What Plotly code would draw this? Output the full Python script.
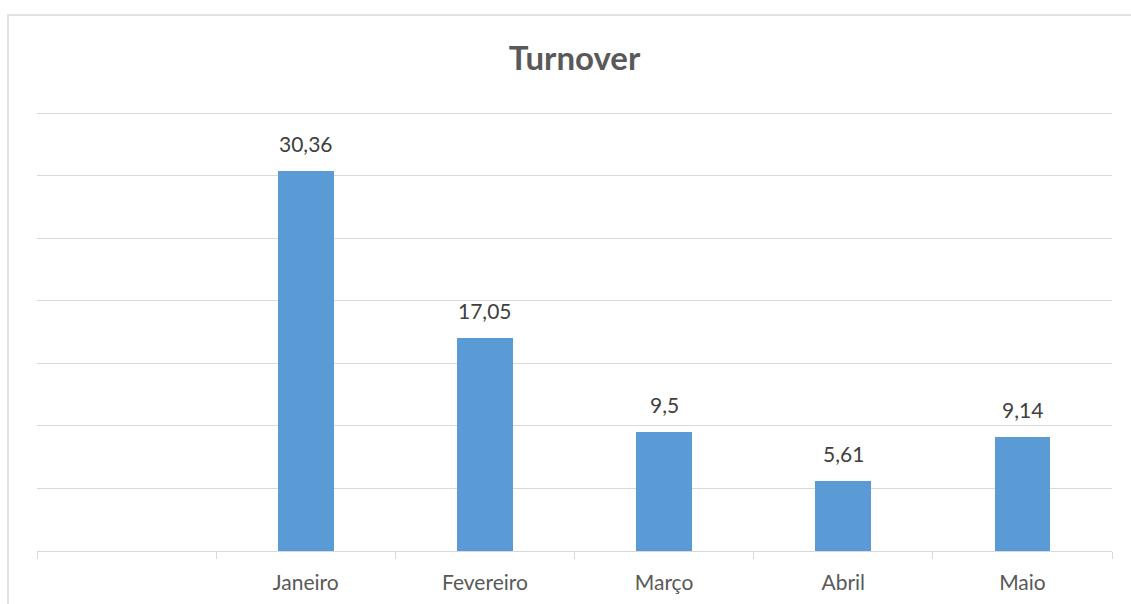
import plotly.graph_objects as go

categories = ["", "Janeiro", "Fevereiro", "Março", "Abril", "Maio"]
values = [None, 30.36, 17.05, 9.5, 5.61, 9.14]
value_labels = ["", "30,36", "17,05", "9,5", "5,61", "9,14"]
title_text = "Turnover"

W, H = 1131, 604
L, R, T, B = 37, 19, 107, 53
plot_w = W - L - R
plot_h = H - T - B
YMAX = 35.5

xs = list(range(len(categories)))

fig = go.Figure()
fig.add_trace(go.Bar(
    x=xs, y=values, width=0.31,
    marker=dict(color="#5B9BD5", line=dict(width=0)),
    hoverinfo="skip",
))

annotations = []
for x, v, t in zip(xs, values, value_labels):
    if v is None:
        continue
    annotations.append(dict(
        x=x, y=v, xref="x", yref="y", text=t, showarrow=False,
        yanchor="bottom", yshift=13,
        font=dict(family="Lato", size=21, color="#404040"),
    ))

fig.update_layout(
    width=W, height=H,
    margin=dict(l=L, r=R, t=T, b=B, autoexpand=False),
    paper_bgcolor="white", plot_bgcolor="white",
    showlegend=False,
    bargap=0,
    title=dict(
        text="<b>" + title_text + "</b>",
        x=(L + plot_w / 2) / W, xanchor="center", xref="container",
        y=(H - 58) / H, yanchor="middle", yref="container",
        font=dict(family="Lato", size=33, color="#595959"),
    ),
    xaxis=dict(
        range=[-0.5, len(categories) - 0.5],
        tickmode="array", tickvals=xs, ticktext=categories,
        ticks="", showgrid=False, zeroline=False,
        showline=True, linecolor="#d9d9d9", linewidth=1,
        tickfont=dict(family="Lato", size=21, color="#595959"),
        ticklabelstandoff=13, automargin=False,
        minor=dict(tickmode="array",
                   tickvals=[i - 0.5 for i in range(len(categories) + 1)],
                   ticks="outside", ticklen=7, tickcolor="#d9d9d9",
                   tickwidth=1, showgrid=False),
        fixedrange=True,
    ),
    yaxis=dict(
        range=[0, YMAX], tickmode="linear", tick0=0, dtick=5,
        showticklabels=False, ticks="", automargin=False,
        showgrid=True, gridcolor="#d9d9d9", gridwidth=1,
        zeroline=False, showline=False, fixedrange=True,
    ),
    annotations=annotations,
    shapes=[dict(
        type="rect", xref="paper", yref="paper",
        x0=(8 - L) / plot_w, x1=1.2,
        y0=-0.3, y1=(H - B - 15) / plot_h,
        line=dict(color="#d9d9d9", width=1.5), fillcolor="rgba(0,0,0,0)",
        layer="below",
    )],
)

fig.write_html("out.html")
